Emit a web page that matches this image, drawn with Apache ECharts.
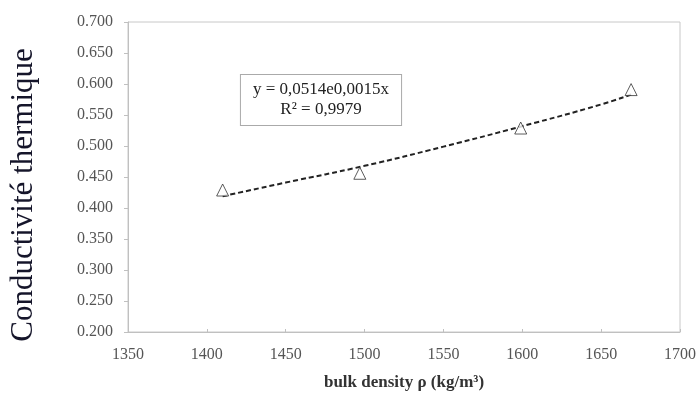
<!DOCTYPE html>
<html><head><meta charset="utf-8">
<script src="https://cdn.jsdelivr.net/npm/echarts@6/dist/echarts.min.js"></script>
<style>html,body{margin:0;padding:0;background:#fff}#c{width:697px;height:394px}</style>
</head><body><div id="c"></div>
<script>
const density = [1410, 1497, 1599, 1669];
const conductivity = [0.429, 0.456, 0.529, 0.591];
const trendX = [1410, 1450, 1500, 1550, 1600, 1650, 1670];
const trendY = [0.419, 0.441, 0.468, 0.499, 0.532, 0.567, 0.584];
const yTicks = [0.2, 0.7, 0.05];
const xTicks = [1350, 1700, 50];
const eqText = ['y = 0,0514e0,0015x', 'R² = 0,9979'];

const chart = echarts.init(document.getElementById('c'));
const serif = '"Liberation Serif", "DejaVu Serif", serif';
chart.setOption({
  animation: false,
  grid: {left: 128, right: 17, top: 22, bottom: 62, show: true, borderColor: '#c8c8c8', borderWidth: 1,
         containLabel: false, outerBoundsMode: 'none'},
  xAxis: {
    type: 'value', min: xTicks[0], max: xTicks[1], interval: xTicks[2],
    name: 'bulk density ρ (kg/m³)', nameLocation: 'middle', nameGap: 42, nameMoveOverlap: false,
    nameTextStyle: {fontFamily: serif, fontWeight: 'bold', fontSize: 17, color: '#333'},
    axisLine: {lineStyle: {color: '#c0c0c0'}},
    axisTick: {show: true, length: 3, inside: true, lineStyle: {color: '#c0c0c0'}},
    axisLabel: {fontFamily: serif, fontSize: 16, color: '#555', margin: 15, formatter: v => String(v)},
    splitLine: {show: false}
  },
  yAxis: {
    type: 'value', min: yTicks[0], max: yTicks[1], interval: yTicks[2],
    name: 'Conductivité thermique', nameLocation: 'middle', nameGap: 89, nameRotate: 90, nameMoveOverlap: false,
    nameTextStyle: {fontFamily: serif, fontSize: 31, color: '#15152a', padding: [0, 36, 0, 0]},
    axisLine: {show: true, lineStyle: {color: '#c0c0c0'}},
    axisTick: {show: true, length: 4, lineStyle: {color: '#c0c0c0'}},
    axisLabel: {fontFamily: serif, fontSize: 16, color: '#555', margin: 15, formatter: v => v.toFixed(3)},
    splitLine: {show: false}
  },
  series: [
    {
      type: 'line', data: trendX.map((x, i) => [x, trendY[i]]), smooth: true, symbol: 'none',
      lineStyle: {color: '#222', width: 2, type: [5, 3]}, z: 2
    },
    {
      type: 'scatter', data: density.map((x, i) => [x, conductivity[i]]),
      symbol: 'triangle', symbolSize: 12,
      itemStyle: {color: '#fff', borderColor: '#333', borderWidth: 1}, z: 3
    }
  ],
  graphic: [{
    type: 'text', x: 321, y: 75,
    style: {
      text: eqText.join('\n'), align: 'center', verticalAlign: 'top', fontFamily: serif, fontSize: 17, lineHeight: 20,
      fill: '#222', backgroundColor: '#fff', borderColor: '#aaa', borderWidth: 1, padding: [5, 12, 5, 12]
    }
  }]
});
</script></body></html>
